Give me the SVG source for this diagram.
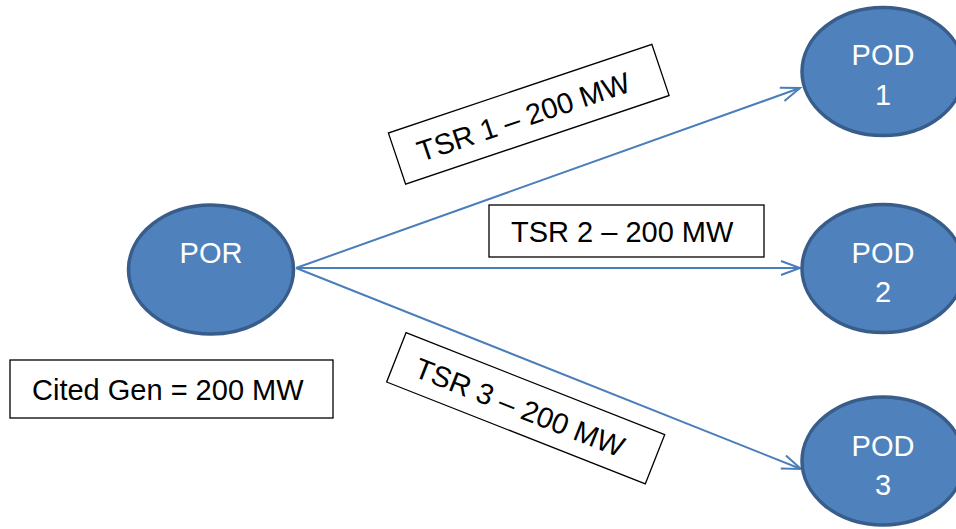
<svg xmlns="http://www.w3.org/2000/svg" width="956" height="529" viewBox="0 0 956 529">
<style>
.node{fill:#4F81BD;stroke:#385D8A;stroke-width:3.5}
.nt{font-family:"Liberation Sans",Arial,sans-serif;font-size:29px;fill:#FFFFFF;text-anchor:middle}
.lbl{fill:#FFFFFF;stroke:#000000;stroke-width:1.3}
.lt{font-family:"Liberation Sans",Arial,sans-serif;font-size:29px;fill:#000000}
.edge{stroke:#4A7EBB;stroke-width:2;fill:none;marker-end:url(#arr)}
</style>
<defs>
<marker id="arr" markerUnits="userSpaceOnUse" markerWidth="24" markerHeight="20" refX="20" refY="8" orient="auto">
<path d="M1,1 L20,8 L1,15" fill="none" stroke="#4A7EBB" stroke-width="2"/>
</marker>
</defs>
<rect width="956" height="529" fill="#FFFFFF"/>
<g id="connectors">
<line class="edge" x1="296" y1="268" x2="800" y2="88"/>
<line class="edge" x1="296" y1="268" x2="800" y2="268"/>
<line class="edge" x1="296" y1="268" x2="801" y2="469"/>
</g>
<g id="POR">
<ellipse class="node" cx="211" cy="269.5" rx="82.5" ry="64.5"/>
<text class="nt" x="211" y="263">POR</text>
</g>
<g id="POD1">
<ellipse class="node" cx="883" cy="71.5" rx="81" ry="64"/>
<text class="nt" x="883" y="65">POD</text>
<text class="nt" x="883" y="105">1</text>
</g>
<g id="POD2">
<ellipse class="node" cx="883" cy="268.5" rx="81" ry="64"/>
<text class="nt" x="883" y="263">POD</text>
<text class="nt" x="883" y="302">2</text>
</g>
<g id="POD3">
<ellipse class="node" cx="883" cy="461" rx="81" ry="64"/>
<text class="nt" x="883" y="456">POD</text>
<text class="nt" x="883" y="495">3</text>
</g>
<g id="TSR1" transform="translate(528.75,114.25) rotate(-18.6)">
<rect class="lbl" x="-139" y="-27" width="278" height="54"/>
<text class="lt" x="-117" y="11">TSR 1 – 200 MW</text>
</g>
<g id="TSR2">
<rect class="lbl" x="489" y="205" width="275" height="52"/>
<text class="lt" x="511" y="242">TSR 2 – 200 MW</text>
</g>
<g id="TSR3" transform="translate(525.5,408.75) rotate(21.5)">
<rect class="lbl" x="-139" y="-27" width="278" height="53"/>
<text class="lt" x="-117" y="11">TSR 3 – 200 MW</text>
</g>
<g id="CitedGen">
<rect class="lbl" x="10" y="360" width="323" height="58"/>
<text class="lt" x="32" y="400">Cited Gen = 200 MW</text>
</g>
</svg>
